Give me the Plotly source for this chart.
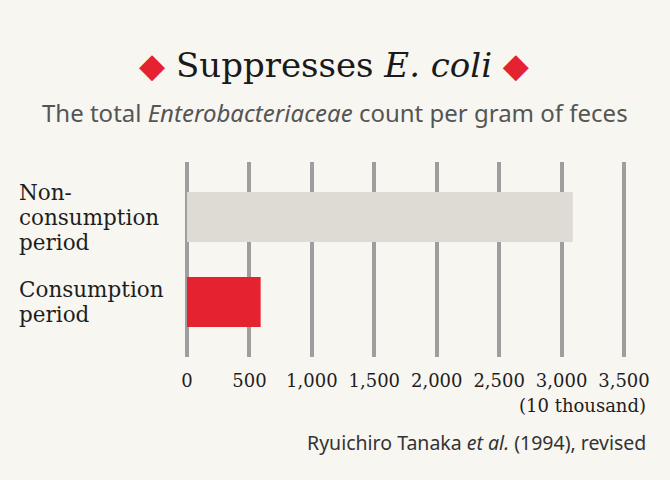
import plotly.graph_objects as go

category_lines = [["Non-", "consumption", "period"], ["Consumption", "period"]]
values = [3090, 590]
bar_colors = ["#dedbd5", "#e52330"]
tick_vals = [0, 500, 1000, 1500, 2000, 2500, 3000, 3500]
tick_text = ["0", "500", "1,000", "1,500", "2,000", "2,500", "3,000", "3,500"]

SERIF = "DejaVu Serif"
SANS = "Noto Sans"
BG = "#f8f6f1"

W, H = 670, 480
L, R, T, B = 182, 40.5, 162, 123
PW, PH = W - L - R, H - T - B
Y0, Y1 = 1.65, -0.65
LINE_PX = 25
LINE = LINE_PX * (Y0 - Y1) / PH  # label line spacing in category units


def px(x):
    return (x - L) / PW


def py(y):
    return (H - B - y) / PH


fig = go.Figure()
fig.add_trace(go.Bar(
    y=[0, 1], x=values, orientation="h",
    marker=dict(color=bar_colors, line=dict(width=0)),
    width=0.59, hoverinfo="skip",
))

fig.update_layout(
    width=W, height=H,
    paper_bgcolor=BG, plot_bgcolor="rgba(0,0,0,0)",
    margin=dict(l=L, r=R, t=T, b=B, pad=0),
    showlegend=False,
    xaxis=dict(
        range=[-40, 3540], tickvals=tick_vals, ticktext=tick_text,
        showgrid=True, gridcolor="#9e9e9e", gridwidth=4,
        zeroline=False, showline=False, ticks="",
        ticklabelstandoff=11,
        tickfont=dict(family=SERIF, size=18, color="#1e1e1e"),
    ),
    yaxis=dict(
        range=[Y0, Y1], showticklabels=False, showgrid=False,
        zeroline=False, showline=False, tickvals=[0, 1],
    ),
)

for i, lines in enumerate(category_lines):
    n = len(lines)
    for k, line in enumerate(lines):
        fig.add_annotation(
            x=px(18), xref="paper", y=i + (k - (n - 1) / 2) * LINE, yref="y",
            text=line, showarrow=False, xanchor="left", yanchor="middle", align="left",
            borderpad=0,
            font=dict(family=SERIF, size=21.5, color="#1e1e1e"),
        )

fig.add_annotation(
    x=px(335), xref="paper", y=py(65), yref="paper",
    text="<span style='color:#e52330;font-size:34px'>◆</span> Suppresses <i>E. coli</i> <span style='color:#e52330;font-size:34px'>◆</span>",
    showarrow=False, xanchor="center", yanchor="middle",
    font=dict(family=SERIF, size=34, color="#1a1a1a"),
)
fig.add_annotation(
    x=px(335), xref="paper", y=py(112), yref="paper",
    text="The total <i>Enterobacteriaceae</i> count per gram of feces",
    showarrow=False, xanchor="center", yanchor="middle",
    font=dict(family=SANS, size=24, color="#555555"),
)
fig.add_annotation(
    x=px(649), xref="paper", y=py(405), yref="paper",
    text="(10 thousand)", showarrow=False, xanchor="right", yanchor="middle",
    font=dict(family=SERIF, size=18, color="#1e1e1e"),
)
fig.add_annotation(
    x=px(649), xref="paper", y=py(442), yref="paper",
    text="Ryuichiro Tanaka <i>et al.</i> (1994), revised", showarrow=False,
    xanchor="right", yanchor="middle",
    font=dict(family=SANS, size=19.5, color="#333333"),
)

fig.write_html(
    "out.html",
    config={"displayModeBar": False},
    post_script="document.body.style.margin='0';document.body.style.background='%s';" % BG,
)
